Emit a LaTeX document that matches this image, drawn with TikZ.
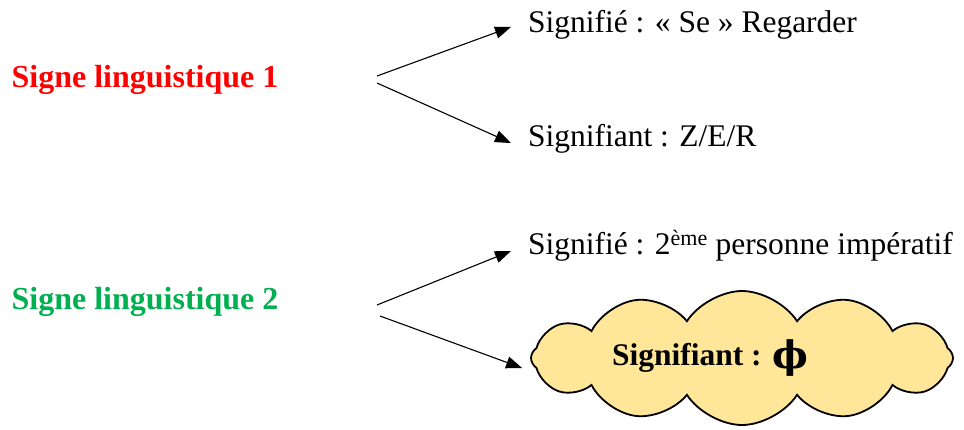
\documentclass[tikz,border=0pt]{standalone}
\usepackage{fontspec}
\setmainfont{Liberation Serif}
\newfontfamily\phifont{DejaVu Serif}
\usetikzlibrary{arrows.meta,shapes.symbols,positioning}
\definecolor{signred}{HTML}{FF0000}
\definecolor{signgreen}{HTML}{00B050}
\definecolor{cloudfill}{HTML}{FFE699}

\begin{document}
\begin{tikzpicture}[x=1pt, y=-1pt,
                >={Triangle[length=16pt, width=12pt]}]
        \tikzset{
                basic/.style  = {inner sep=0pt, outer sep=0pt, font=\fontsize{31.5}{36}\selectfont},
                sign/.style   = {basic, font=\fontsize{32}{36}\selectfont\bfseries},
                meaning/.style = {basic, anchor=west},
                bubble/.style = {cloud, cloud puffs=12, cloud puff arc=115, cloud ignores aspect,
                                draw, line width=1.8pt, inner sep=0pt,
                                fill=cloudfill, minimum width=422pt, minimum height=134pt,
                                font=\fontsize{31.5}{36}\selectfont\bfseries},
                link/.style   = {->, line width=1.1pt}
        }
        \useasboundingbox (0,0) rectangle (964,429);

        % the two signs
        \node[sign, text=signred] (s1) at (145,80) {Signe linguistique 1};
        \node[sign, text=signgreen] (s2) at (145,302) {Signe linguistique 2};

        % what each sign splits into
        \node[meaning] (s1a) at (528,25) {Signifié : « Se » Regarder};
        \node[meaning] (s1b) at (528,139) {Signifiant : Z/E/R};
        \node[meaning] (s2a) at (528,246) {Signifié : 2\textsuperscript{ème} personne impératif};
        \node[bubble] (s2b) at (742,358) {Signifiant : \raisebox{-3pt}{\fontsize{38}{44}\selectfont\phifont ϕ}\hspace*{64pt}};

        % forks
        \coordinate (f1a) at (377,76);
        \coordinate (f1b) at (377,83);
        \coordinate (f2a) at (377,305);
        \coordinate (f2b) at (380,316);

        \draw[link] (f1a) -- ([xshift=-17pt, yshift=-2pt]s1a.west);
        \draw[link] (f1b) -- ([xshift=-17pt, yshift=-4pt]s1b.west);
        \draw[link] (f2a) -- ([xshift=-17pt, yshift=-5pt]s2a.west);
        \draw[link] (f2b) -- ([xshift=-8pt, yshift=-10pt]s2b.west);
\end{tikzpicture}
\end{document}
